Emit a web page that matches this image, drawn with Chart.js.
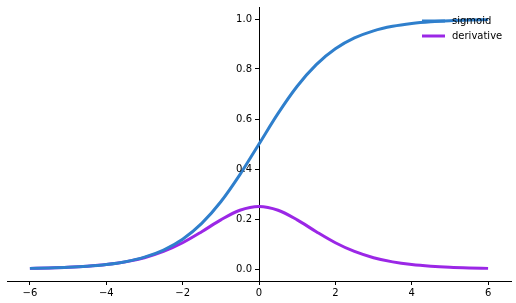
<!DOCTYPE html>
<html>
<head>
<meta charset="utf-8">
<script src="https://cdn.jsdelivr.net/npm/chart.js@4"></script>
<style>
  html, body { margin: 0; padding: 0; background: #fff; }
  #wrap { width: 516px; height: 303px; }
</style>
</head>
<body>
<div id="wrap"><canvas id="chart" width="516" height="303"></canvas></div>
<script>
// values
const xValues = [-6, -5.5, -5, -4.5, -4, -3.5, -3, -2.5, -2, -1.5, -1, -0.5, 0,
                 0.5, 1, 1.5, 2, 2.5, 3, 3.5, 4, 4.5, 5, 5.5, 6];
const sigmoidValues = [0.0025, 0.0041, 0.0067, 0.0110, 0.0180, 0.0293, 0.0474, 0.0759, 0.1192, 0.1824, 0.2689, 0.3775, 0.5,
                       0.6225, 0.7311, 0.8176, 0.8808, 0.9241, 0.9526, 0.9707, 0.9820, 0.9890, 0.9933, 0.9959, 0.9975];
const derivativeValues = [0.0025, 0.0041, 0.0066, 0.0109, 0.0177, 0.0285, 0.0452, 0.0701, 0.1050, 0.1491, 0.1966, 0.2350, 0.25,
                          0.2350, 0.1966, 0.1491, 0.1050, 0.0701, 0.0452, 0.0285, 0.0177, 0.0109, 0.0066, 0.0041, 0.0025];
const xTicks = [-6, -4, -2, 0, 2, 4, 6];
const yTicks = [0.0, 0.2, 0.4, 0.6, 0.8, 1.0];
const seriesNames = ['sigmoid', 'derivative'];
const seriesColors = ['#2f7fcc', '#9b27e6'];

const FONT = { family: 'DejaVu Sans', size: 10 };
const toPoints = ys => xValues.map((x, i) => ({ x, y: ys[i] }));

// labels for the centred y axis, drawn left of its spine
const yLabelPlugin = {
  id: 'yLabels',
  afterDraw(c) {
    const ctx = c.ctx, xs = c.scales.x, ys = c.scales.y;
    const x0 = Math.round(xs.getPixelForValue(0)) - 7;
    ctx.save();
    ctx.font = '10px "DejaVu Sans"';
    ctx.fillStyle = '#000';
    ctx.textAlign = 'right';
    ctx.textBaseline = 'middle';
    yTicks.forEach(v => ctx.fillText(v.toFixed(1), x0, ys.getPixelForValue(v)));
    ctx.restore();
  }
};

// matplotlib-style legend, no frame, top right
const legendPlugin = {
  id: 'mplLegend',
  afterDraw(c) {
    const ctx = c.ctx, area = c.chartArea;
    ctx.save();
    ctx.font = '10px "DejaVu Sans"';
    ctx.textBaseline = 'middle';
    ctx.textAlign = 'left';
    seriesNames.forEach((name, i) => {
      const y = area.top + 14 + i * 15;
      const x0 = area.right - 89;
      ctx.strokeStyle = seriesColors[i];
      ctx.lineWidth = 3;
      ctx.beginPath();
      ctx.moveTo(x0, y);
      ctx.lineTo(x0 + 23, y);
      ctx.stroke();
      ctx.fillStyle = '#000';
      ctx.fillText(name, x0 + 30, y);
    });
    ctx.restore();
  }
};

new Chart(document.getElementById('chart'), {
  type: 'line',
  data: {
    datasets: [
      { label: seriesNames[0], data: toPoints(sigmoidValues), borderColor: seriesColors[0], borderWidth: 3,
        pointRadius: 0, cubicInterpolationMode: 'monotone', fill: false },
      { label: seriesNames[1], data: toPoints(derivativeValues), borderColor: seriesColors[1], borderWidth: 3,
        pointRadius: 0, cubicInterpolationMode: 'monotone', fill: false },
    ]
  },
  options: {
    responsive: false,
    animation: false,
    layout: { padding: { left: 7, right: 5, top: 7, bottom: 2 } },
    plugins: { legend: { display: false }, tooltip: { enabled: false } },
    scales: {
      x: {
        type: 'linear', position: 'bottom', min: -6.6, max: 6.6,
        afterBuildTicks: s => { s.ticks = xTicks.map(v => ({ value: v })); },
        ticks: { color: '#000', font: FONT, padding: 2, maxRotation: 0,
                 callback: v => v < 0 ? '\u2212' + Math.abs(v) : String(v) },
        grid: { drawOnChartArea: false, drawTicks: true, tickLength: 4, color: '#000' },
        border: { display: true, color: '#000', width: 1 }
      },
      y: {
        type: 'linear', position: { x: 0 }, min: -0.048, max: 1.048,
        afterBuildTicks: s => { s.ticks = yTicks.map(v => ({ value: v })); },
        ticks: { display: false },
        grid: { drawOnChartArea: false, drawTicks: true, tickLength: 4, color: '#000' },
        border: { display: true, color: '#000', width: 1 }
      }
    }
  },
  plugins: [yLabelPlugin, legendPlugin]
});
</script>
</body>
</html>
